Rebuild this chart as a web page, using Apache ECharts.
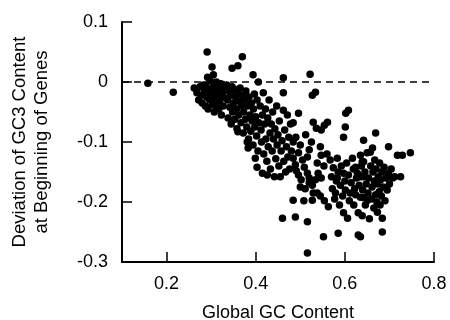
<!DOCTYPE html>
<html>
<head>
<meta charset="utf-8">
<script src="https://cdn.jsdelivr.net/npm/echarts@6/dist/echarts.min.js"></script>
<style>
  html, body { margin: 0; padding: 0; background: #fff; }
  #main { width: 450px; height: 320px; }
</style>
</head>
<body>
<div id="main"></div>
<script>
// tick labels
var xTicks = [0.2, 0.4, 0.6, 0.8];
var yTicks = [-0.3, -0.2, -0.1, 0, 0.1];

// [global GC, deviation of GC3 at beginning of genes], grouped by GC range
var genesLow = [
  [0.158, -0.002], [0.215, -0.017]
];
var genes026 = [
  [0.262, -0.010], [0.268, -0.018], [0.272, -0.030], [0.275, -0.008], [0.278, -0.022],
  [0.280, -0.035], [0.283, -0.005], [0.285, -0.015], [0.287, -0.040], [0.290, -0.025],
  [0.291, 0.050], [0.292, 0.008], [0.293, -0.045], [0.295, -0.012], [0.297, -0.030],
  [0.298, 0.002], [0.300, -0.020], [0.302, 0.025], [0.303, -0.038], [0.305, 0.012],
  [0.305, -0.008], [0.307, -0.050], [0.308, -0.028], [0.310, -0.015], [0.312, 0.000],
  [0.313, -0.035], [0.315, -0.022], [0.317, -0.045], [0.318, -0.010], [0.320, -0.030],
  [0.322, -0.003], [0.323, -0.055], [0.325, -0.018], [0.327, -0.040], [0.328, -0.025],
  [0.330, -0.008], [0.288, -0.005], [0.296, -0.020], [0.301, -0.012], [0.311, -0.040]
];
var genes033 = [
  [0.335, -0.005], [0.337, -0.030], [0.338, -0.060], [0.340, -0.015], [0.342, -0.042],
  [0.344, -0.022], [0.345, -0.070], [0.347, 0.023], [0.347, -0.008], [0.348, -0.050],
  [0.350, -0.035], [0.352, -0.012], [0.353, -0.062], [0.355, -0.025], [0.357, -0.045],
  [0.358, -0.078], [0.360, 0.027], [0.360, -0.018], [0.362, -0.055], [0.363, -0.032],
  [0.365, -0.010], [0.367, -0.068], [0.368, -0.040], [0.370, 0.042], [0.370, -0.022],
  [0.372, -0.085], [0.373, -0.050], [0.375, -0.030], [0.377, -0.062], [0.378, -0.015],
  [0.380, -0.075], [0.382, -0.040], [0.384, -0.095], [0.385, -0.025], [0.387, -0.055],
  [0.389, -0.082], [0.390, -0.035], [0.392, -0.065], [0.394, 0.012], [0.394, -0.105],
  [0.395, -0.045], [0.397, -0.020], [0.398, -0.075], [0.400, -0.058], [0.402, -0.090],
  [0.403, -0.030], [0.405, -0.115], [0.406, 0.000], [0.407, -0.068], [0.381, -0.100],
  [0.383, -0.110], [0.360, -0.083]
];
var genes041 = [
  [0.410, -0.040], [0.412, -0.080], [0.413, -0.100], [0.415, -0.055], [0.417, -0.018],
  [0.418, -0.120], [0.420, -0.070], [0.422, -0.045], [0.423, -0.095], [0.425, -0.132],
  [0.427, -0.060], [0.428, -0.108], [0.430, -0.030], [0.432, -0.085], [0.433, -0.145],
  [0.435, -0.070], [0.437, -0.115], [0.438, -0.050], [0.440, -0.095], [0.442, -0.158],
  [0.443, -0.078], [0.445, -0.128], [0.447, -0.040], [0.448, -0.105], [0.450, -0.088],
  [0.452, -0.140], [0.453, -0.065], [0.455, -0.158], [0.457, -0.115], [0.459, -0.098],
  [0.460, -0.227], [0.462, 0.007], [0.462, -0.018], [0.462, -0.047], [0.463, -0.132],
  [0.465, -0.080], [0.467, -0.150], [0.469, -0.108], [0.471, -0.055], [0.472, -0.125],
  [0.474, -0.092], [0.476, -0.145], [0.478, -0.070], [0.480, -0.115], [0.415, -0.152],
  [0.426, -0.155], [0.403, -0.142], [0.399, -0.127]
];
var genes048 = [
  [0.484, -0.197], [0.489, -0.225], [0.516, -0.233], [0.516, -0.285], [0.484, -0.068],
  [0.496, -0.052], [0.522, 0.013], [0.527, -0.022], [0.534, -0.017], [0.529, -0.067],
  [0.536, -0.077], [0.547, -0.080], [0.554, -0.072], [0.561, -0.067], [0.490, -0.092],
  [0.484, -0.100], [0.545, -0.108], [0.547, -0.122], [0.520, -0.113], [0.516, -0.125],
  [0.496, -0.118], [0.484, -0.127], [0.489, -0.138], [0.505, -0.130], [0.509, -0.142],
  [0.516, -0.152], [0.520, -0.160], [0.496, -0.155], [0.502, -0.163], [0.540, -0.152],
  [0.547, -0.160], [0.534, -0.163], [0.527, -0.172], [0.520, -0.168], [0.529, -0.185],
  [0.538, -0.185], [0.511, -0.178], [0.527, -0.197], [0.545, -0.190], [0.554, -0.198],
  [0.491, -0.148], [0.500, -0.105], [0.512, -0.088], [0.525, -0.100], [0.538, -0.135],
  [0.553, -0.140], [0.560, -0.120], [0.500, -0.175], [0.508, -0.198], [0.552, -0.258],
  [0.563, -0.208]
];
var genes056 = [
  [0.567, -0.130], [0.570, -0.158], [0.572, -0.178], [0.574, -0.143], [0.577, -0.195],
  [0.579, -0.185], [0.581, -0.165], [0.583, -0.127], [0.583, -0.160], [0.585, -0.150],
  [0.585, -0.252], [0.588, -0.205], [0.590, -0.172], [0.592, -0.140], [0.595, -0.190],
  [0.597, -0.092], [0.597, -0.152], [0.597, -0.218], [0.600, -0.165], [0.601, -0.075],
  [0.601, -0.180], [0.602, -0.052], [0.604, -0.135], [0.606, -0.227], [0.608, -0.047],
  [0.608, -0.155], [0.610, -0.198], [0.612, -0.185], [0.614, -0.168], [0.617, -0.127],
  [0.619, -0.145], [0.620, -0.205], [0.622, -0.178], [0.624, -0.142], [0.624, -0.188],
  [0.626, -0.160], [0.628, -0.152], [0.630, -0.218], [0.630, -0.255], [0.632, -0.172],
  [0.635, -0.122], [0.635, -0.158], [0.635, -0.192], [0.635, -0.258], [0.637, -0.140],
  [0.639, -0.133], [0.639, -0.223], [0.640, -0.180], [0.642, -0.097], [0.642, -0.193]
];
var genes064 = [
  [0.645, -0.150], [0.646, -0.205], [0.648, -0.170], [0.650, -0.118], [0.652, -0.185],
  [0.653, -0.160], [0.655, -0.228], [0.657, -0.117], [0.658, -0.140], [0.660, -0.195],
  [0.661, -0.175], [0.662, -0.110], [0.663, -0.150], [0.665, -0.210], [0.666, -0.165],
  [0.667, -0.130], [0.669, -0.085], [0.669, -0.188], [0.670, -0.145], [0.672, -0.200],
  [0.673, -0.217], [0.674, -0.170], [0.675, -0.158], [0.677, -0.183], [0.678, -0.135],
  [0.679, -0.205], [0.680, -0.163], [0.682, -0.190], [0.683, -0.150], [0.684, -0.227],
  [0.684, -0.250], [0.686, -0.175], [0.688, -0.142], [0.690, -0.198], [0.692, -0.160],
  [0.695, -0.180], [0.698, -0.108], [0.698, -0.152], [0.700, -0.170], [0.704, -0.145],
  [0.707, -0.160], [0.712, -0.158], [0.718, -0.122], [0.725, -0.158], [0.729, -0.122],
  [0.747, -0.118], [0.642, -0.133], [0.641, -0.158], [0.651, -0.197]
];

var genes = [].concat(genesLow, genes026, genes033, genes041, genes048, genes056, genes064);

var chart = echarts.init(document.getElementById('main'));
var font = 'Liberation Sans, Arial, sans-serif';
var fmt = function (v) { return String(Math.round(v * 10) / 10); };

chart.setOption({
  animation: false,
  grid: { left: 122, right: 16, top: 22, bottom: 58, outerBoundsMode: 'none' },
  xAxis: {
    type: 'value',
    min: 0.1,
    max: 0.8,
    name: 'Global GC Content',
    nameLocation: 'middle',
    nameGap: 42,
    nameTextStyle: { color: '#000', fontSize: 18, fontFamily: font },
    axisLine: { onZero: false, lineStyle: { color: '#000', width: 2 } },
    axisTick: { inside: true, length: 10, lineStyle: { color: '#000', width: 1.5 }, customValues: xTicks },
    axisLabel: { color: '#000', fontSize: 18, fontFamily: font, margin: 13, customValues: xTicks, formatter: fmt },
    splitLine: { show: false }
  },
  yAxis: {
    type: 'value',
    min: -0.3,
    max: 0.1,
    interval: 0.1,
    name: 'Deviation of GC3 Content\nat Beginning of Genes',
    nameLocation: 'middle',
    nameGap: 69,
    nameTextStyle: { color: '#000', fontSize: 18.5, fontFamily: font, lineHeight: 22 },
    axisLine: { onZero: false, lineStyle: { color: '#000', width: 2 } },
    axisTick: { inside: true, length: 10, lineStyle: { color: '#000', width: 1.5 }, customValues: yTicks },
    axisLabel: { color: '#000', fontSize: 18, fontFamily: font, margin: 14, customValues: yTicks, formatter: fmt },
    splitLine: { show: false }
  },
  series: [{
    type: 'scatter',
    data: genes,
    symbolSize: 7.5,
    itemStyle: { color: '#000', opacity: 1 },
    markLine: {
      silent: true,
      symbol: 'none',
      label: { show: false },
      lineStyle: { color: '#000', width: 1.5, type: [7, 5], opacity: 1 },
      data: [{ yAxis: 0 }]
    }
  }]
});
</script>
</body>
</html>
